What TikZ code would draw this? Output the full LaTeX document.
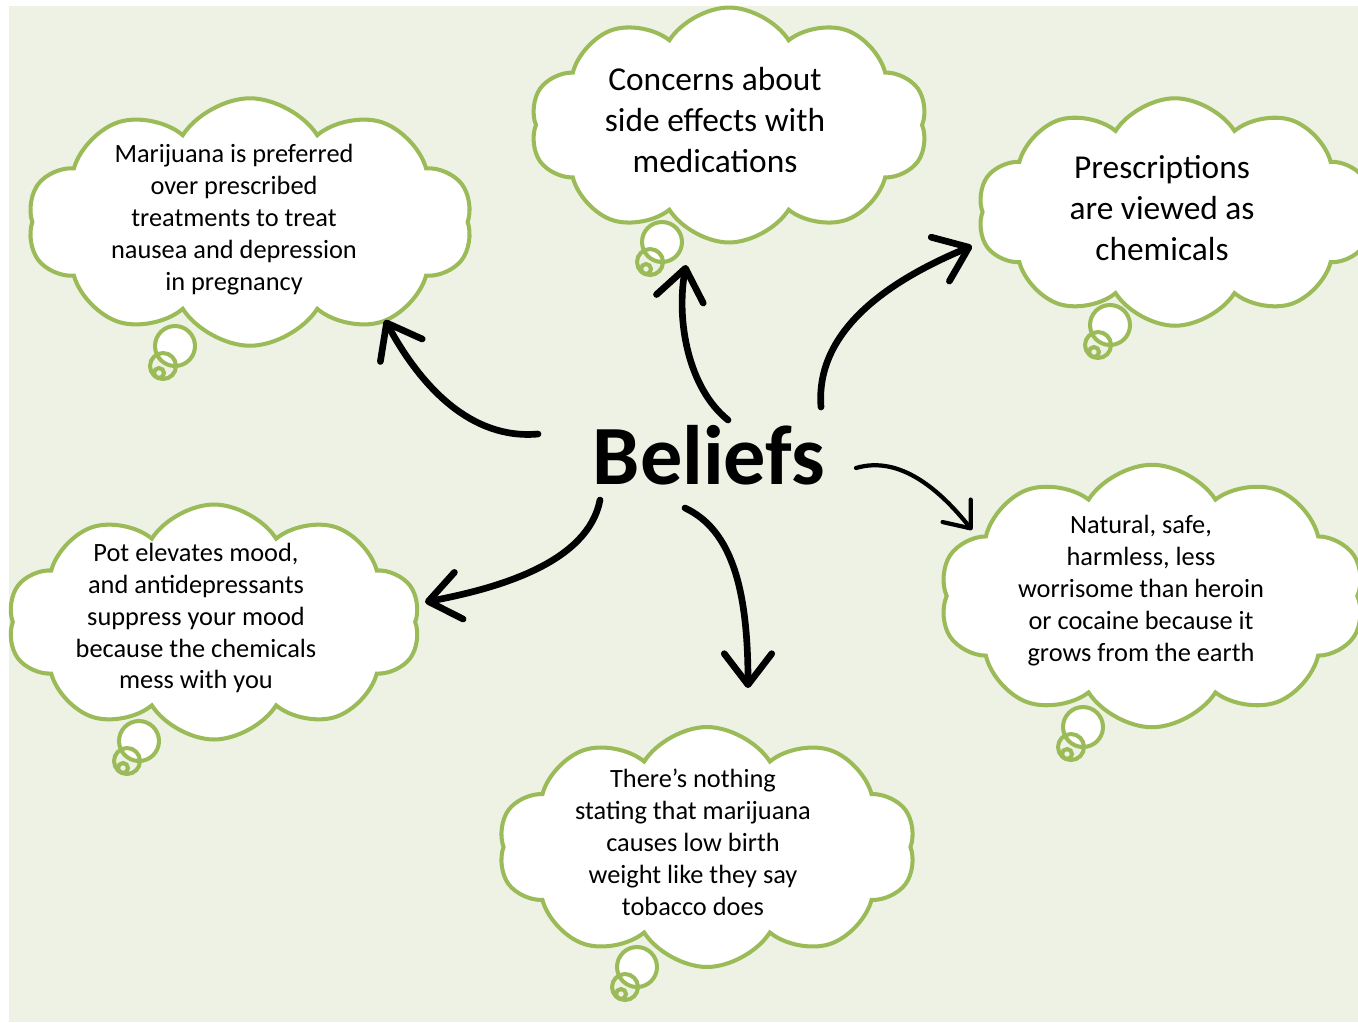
\documentclass[tikz,border=0pt]{standalone}
\usepackage{fontspec}
\setmainfont{Carlito}
\usetikzlibrary{arrows.meta,shapes.symbols}

\definecolor{leaf}{HTML}{9BBB59}
\definecolor{paper}{HTML}{EEF2E4}

\begin{document}
\begin{tikzpicture}[x=0.02cm,y=-0.02cm,
    thought/.style={cloud, cloud puffs=10, cloud puff arc=115, cloud ignores aspect,
      draw=leaf, line width=2.3pt, fill=white, inner sep=0pt},
    puff/.style={circle, draw=leaf, line width=2.3pt, inner sep=0pt},
    say/.style={align=center, font=\fontsize{15}{18.2}\selectfont},
    saybig/.style={align=center, font=\fontsize{19}{23.3}\selectfont},
    push/.style={line width=3.8pt, line cap=round, -{Straight Barb[length=0.62cm,width=0.95cm,line cap=round,line join=round]}},
    nudge/.style={line width=2.4pt, line cap=round, -{Straight Barb[length=0.45cm,width=0.72cm,line cap=round,line join=round]}}]
  \useasboundingbox (0,0) rectangle (1358,1022);
  \fill[paper] (9,6) rectangle (1358,1022);

  % clouds
  \node[thought, minimum width=8.9cm, minimum height=4.95cm] (pref) at (250,222) {};
  \node[thought, minimum width=7.95cm, minimum height=4.7cm] (side) at (729,125) {};
  \node[thought, minimum width=7.9cm, minimum height=4.55cm] (chem) at (1175,212) {};
  \node[thought, minimum width=8.5cm, minimum height=5.25cm] (safe) at (1152,596) {};
  \node[thought, minimum width=8.35cm, minimum height=4.8cm] (birth) at (707,847) {};
  \node[thought, minimum width=8.25cm, minimum height=4.7cm] (mood) at (214,622) {};

  % little bubbles
  \foreach \n/\x/\y in {p/175/346, s/662/242, c/1110/325, f/1083/727, b/637/967, m/139/741} {
    \node[puff, fill=white, minimum size=0.8cm] (\n big) at (\x,\y) {};
    \node[puff, minimum size=0.52cm] (\n mid) at (\x-12,\y+20) {};
    \node[puff, minimum size=0.2cm] (\n dot) at (\x-16,\y+27) {};
  }

  % texts
  \node[say] (pref txt) at (234,220) {Marijuana is preferred\\over prescribed\\treatments to treat\\nausea and depression\\in pregnancy};
  \node[saybig] (side txt) at (715,120) {Concerns about\\side effects with\\medications};
  \node[saybig] (chem txt) at (1162,208) {Prescriptions\\are viewed as\\chemicals};
  \node[say] (safe txt) at (1141,591) {Natural, safe,\\harmless, less\\worrisome than heroin\\or cocaine because it\\grows from the earth};
  \node[say] (birth txt) at (693,842) {There’s nothing\\stating that marijuana\\causes low birth\\weight like they say\\tobacco does};
  \node[say] (mood txt) at (196,618) {Pot elevates mood,\\and antidepressants\\suppress your mood\\because the chemicals\\mess with you};

  \node[font=\fontsize{48}{50}\bfseries\selectfont] (beliefs) at (709,455) {Beliefs};

  % arrow ends
  \coordinate (a1) at (538,434);  \coordinate (b1) at (385,320);
  \coordinate (a2) at (728,420);  \coordinate (b2) at (686,265);
  \coordinate (a3) at (821,407);  \coordinate (b3) at (972,246);
  \coordinate (a4) at (856,468);  \coordinate (b4) at (972,530);
  \coordinate (a5) at (685,508);  \coordinate (b5) at (748,688);
  \coordinate (a6) at (600,500);  \coordinate (b6) at (425,602);

  \draw[push] (a1) .. controls (470,440) and (420,385) .. (b1);
  \draw[push] (a2) .. controls (688,388) and (676,320) .. (b2);
  \draw[push] (a3) .. controls (815,330) and (890,280) .. (b3);
  \draw[nudge] (a4) .. controls (900,455) and (940,490) .. (b4);
  \draw[push] (a5) .. controls (732,530) and (748,590) .. (b5);
  \draw[push] (a6) .. controls (588,562) and (500,588) .. (b6);
\end{tikzpicture}
\end{document}
